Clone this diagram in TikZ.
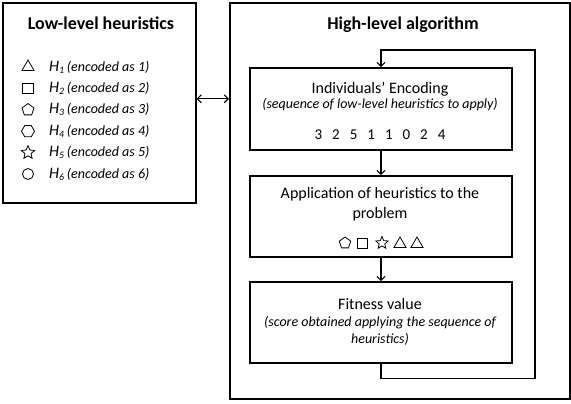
\documentclass[tikz,border=0pt]{standalone}
\usepackage{fontspec}
\setmainfont{Carlito}
\usetikzlibrary{positioning, arrows.meta, shapes.geometric}

\begin{document}
\begin{tikzpicture}[x=1pt, y=-1pt, >={Straight Barb[length=4pt, width=8pt]},
    panel/.style={draw, line width=1.6pt, anchor=north west, inner sep=0pt},
    stage/.style={draw, line width=1.6pt, minimum width=262pt, inner sep=0pt},
    heading/.style={font=\fontsize{18}{20}\selectfont\bfseries, inner sep=0pt},
    plain/.style={font=\fontsize{16}{20}\selectfont, inner sep=0pt, align=center},
    note/.style={font=\fontsize{14}{17.5}\selectfont\itshape, inner sep=0pt, align=center},
    digits/.style={font=\fontsize{15}{18}\selectfont, inner sep=0pt},
    flow/.style={line width=1.1pt, ->},
    sym/.style={draw, line width=0.8pt, inner sep=0pt},
    htri/.style={sym, regular polygon, regular polygon sides=3, minimum size=14pt},
    hsq/.style={sym, rectangle, minimum size=10.5pt},
    hpent/.style={sym, regular polygon, regular polygon sides=5, minimum size=12.5pt},
    hhex/.style={sym, regular polygon, regular polygon sides=6, minimum size=13pt},
    hstar/.style={sym, star, star points=5, star point ratio=2.2, minimum size=14pt},
    hcirc/.style={sym, circle, minimum size=11pt}]
  \useasboundingbox (0,0) rectangle (571,404);

  \node[panel, minimum width=193pt, minimum height=200pt] (low) at (2,2) {};
  \node[heading] (lowtitle) at (101,23) {Low-level heuristics};
  \foreach \s [count=\i] in {htri, hsq, hpent, hhex, hstar, hcirc} {
    \node[\s] (sym\i) at (28, 45.6+21.4*\i) {};
    \node[note, anchor=west] (h\i) at (49, 45.6+21.4*\i)
      {{\fontsize{16}{18}\selectfont H}\textsubscript{\i}\,(encoded as \i)};
  }

  \node[panel, minimum width=340pt, minimum height=396pt] (high) at (229,2) {};
  \node[heading] (hightitle) at (403,25) {High-level algorithm};

  \node[stage, minimum height=82pt] (enc) at (381,109) {};
  \node[plain] (enctitle) at (380,89) {Individuals’ Encoding};
  \node[note] (encnote) at (380,105) {(sequence of low-level heuristics to apply)};
  \node[digits] (encdigits) at (380,135) {\spaceskip=10pt\relax 3 2 5 1 1 0 2 4};

  \node[stage, minimum height=81pt] (app) at (381,216.5) {};
  \node[plain] (apptitle) at (380,204) {Application of heuristics to the\\problem};
  \node[hpent, minimum size=12pt] (a1) at (345,243) {};
  \node[hsq, minimum size=10pt] (a2) at (362,243) {};
  \node[hstar, minimum size=13pt] (a3) at (382,243) {};
  \node[htri, minimum size=14pt] (a4) at (400,244) {};
  \node[htri, minimum size=14pt] (a5) at (417,244) {};

  \node[stage, minimum height=81pt] (fit) at (381,322.5) {};
  \node[plain] (fittitle) at (380,304) {Fitness value};
  \node[note] (fitnote) at (380,331) {(score obtained applying the sequence of\\heuristics)};

  \coordinate (back) at (535,50);
  \draw[flow] (enc) -- (app);
  \draw[flow] (app) -- (fit);
  \draw[flow] (fit.south) -- ++(0,15) -| (back) -| (enc.north);
  \draw[line width=1.1pt, <->] ([yshift=4pt]low.east) -- ([yshift=4pt]low.east -| high.west);
\end{tikzpicture}
\end{document}
